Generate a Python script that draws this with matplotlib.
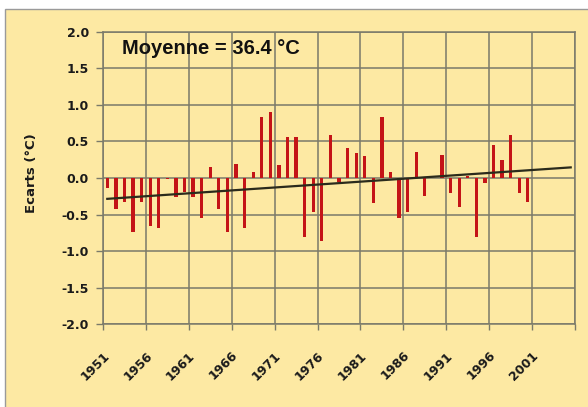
import numpy as np
import matplotlib
matplotlib.use("Agg")
import matplotlib.pyplot as plt
from matplotlib.patches import Rectangle

# ---- data ----
years = list(range(1951, 2006))
anomalies = [-0.14, -0.43, -0.33, -0.74, -0.33, -0.66, -0.68, -0.01, -0.26, -0.19,
             -0.26, -0.55, 0.15, -0.43, -0.74, 0.19, -0.68, 0.08, 0.83, 0.90,
             0.18, 0.56, 0.56, -0.80, -0.46, -0.86, 0.59, -0.06, 0.41, 0.34,
             0.30, -0.34, 0.83, 0.08, -0.55, -0.46, 0.36, -0.25, 0.00, 0.32,
             -0.20, -0.40, 0.03, -0.80, -0.07, 0.45, 0.25, 0.59, -0.20, -0.33,
             np.nan, np.nan, np.nan, np.nan, np.nan]
trend_years = [1951, 2005]
trend_values = [-0.285, 0.145]
xtick_years = list(range(1951, 2002, 5))
xtick_labels = [str(y) for y in xtick_years]
ytick_values = [-2.0, -1.5, -1.0, -0.5, 0.0, 0.5, 1.0, 1.5, 2.0]
ytick_labels = ["%.1f" % v for v in ytick_values]
annotation = "Moyenne = 36.4 °C"
ylabel = "Ecarts (°C)"

# ---- style ----
bg = "#FDE9A3"
grid_c = "#7a7a6a"
bar_c = "#C41417"

fig = plt.figure(figsize=(5.88, 4.07), dpi=100)
fig.patch.set_facecolor("white")
fig.patches.append(Rectangle((4.5 / 588, -0.05), 1.2, 1.05 - 8.5 / 407,
                             transform=fig.transFigure, facecolor=bg,
                             edgecolor="#9a9a9a", linewidth=1.0, zorder=-5))

ax = fig.add_axes([103 / 588, 1 - 324.3 / 407, (575 - 103) / 588, (324.3 - 31.7) / 407])
ax.set_zorder(2)
ax.set_facecolor(bg)

ax.bar(years, anomalies, width=0.38, color=bar_c, zorder=3)
ax.plot(trend_years, trend_values, color="#2b2b1c", linewidth=1.6, zorder=4)

ax.set_xlim(years[0] - 0.5, years[-1] + 0.5)
ax.set_ylim(-2.0, 2.0)

ax.set_yticks(ytick_values)
ax.set_yticklabels(ytick_labels)
ax.set_xticks(xtick_years)
ax.set_xticklabels(xtick_labels, rotation=45, ha="right", va="center",
                   rotation_mode="anchor")
ax.set_xticks(np.arange(years[0] - 0.5, years[-1] + 1, 5), minor=True)

ax.tick_params(axis="x", which="major", length=0, pad=21, labelsize=9)
ax.tick_params(axis="x", which="minor", length=4, width=1, color=grid_c, direction="out")
ax.tick_params(axis="y", which="major", length=5, width=1, color=grid_c, pad=5, labelsize=9)
for lab in ax.get_xticklabels() + ax.get_yticklabels():
    lab.set_fontweight("bold")
    lab.set_color("#1a1a1a")

ax.grid(True, axis="y", which="major", color=grid_c, linewidth=1.1, zorder=1)
ax.grid(True, axis="x", which="minor", color=grid_c, linewidth=1.1, zorder=1)
ax.set_axisbelow(True)
for s in ax.spines.values():
    s.set_color(grid_c)
    s.set_linewidth(1.1)

ax.set_ylabel(ylabel, fontsize=9.5, fontweight="bold", color="#1a1a1a")
ax.yaxis.set_label_coords(-0.138, 0.517)

ax.text(0.04, 0.9228, annotation, transform=ax.transAxes, fontsize=14.5,
        fontweight="bold", family="Liberation Sans", va="baseline", ha="left",
        color="#111111", zorder=5)

fig.savefig("out.png", dpi=100, facecolor=fig.get_facecolor())
